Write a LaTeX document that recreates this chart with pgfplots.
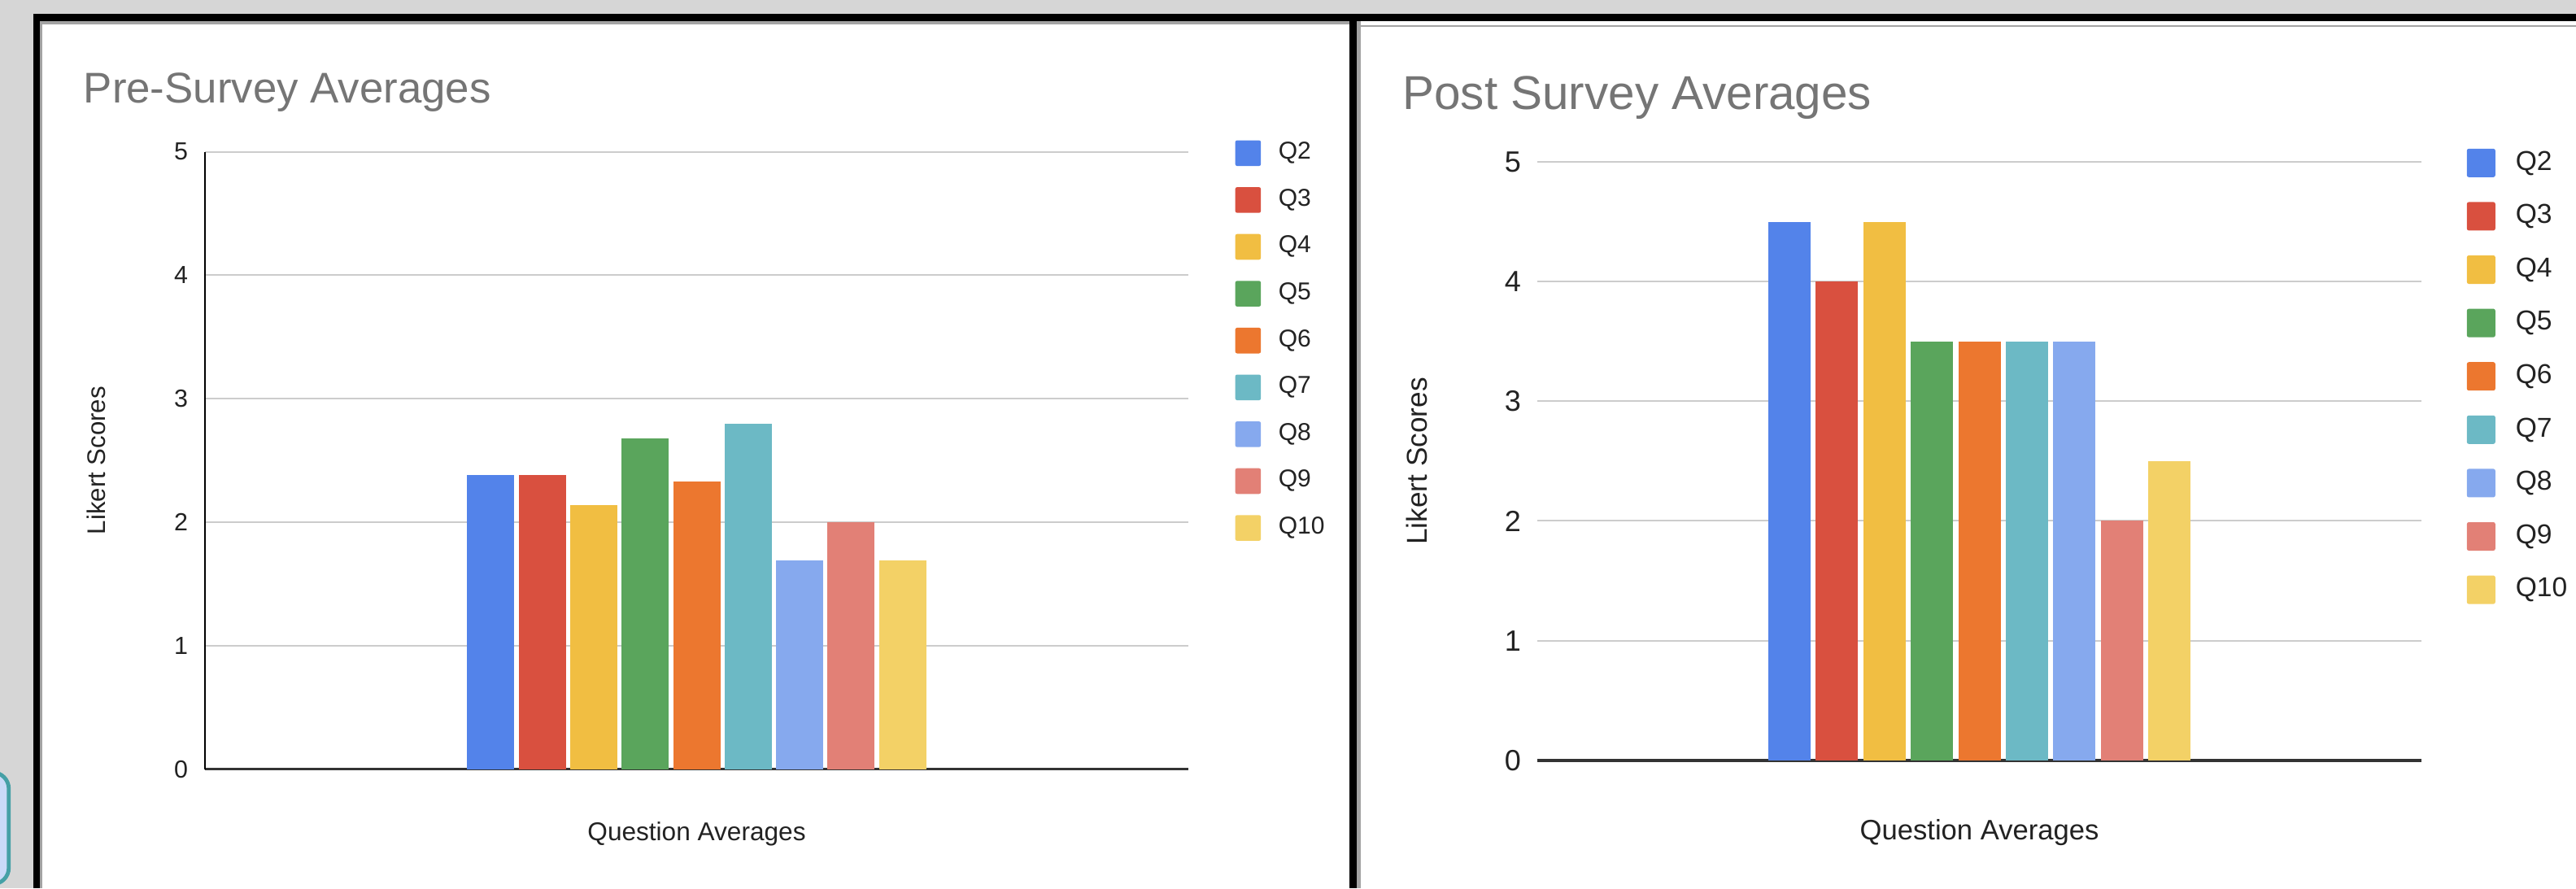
\documentclass[border=0pt]{standalone}
\usepackage{pgfplots}
\pgfplotsset{compat=1.18}
\usepackage{fontspec}
\setmainfont{Liberation Sans}

\definecolor{bggray}{HTML}{D6D6D6}
\definecolor{framegray}{HTML}{A3A3A3}
\definecolor{tealline}{HTML}{45A0A6}
\definecolor{boxblue}{HTML}{C9DAF8}
\definecolor{titlegray}{HTML}{757575}
\definecolor{gridgray}{HTML}{CCCCCC}
\definecolor{axisdark}{HTML}{333333}
\definecolor{labeltext}{HTML}{222222}
\definecolor{cQ2}{HTML}{5383EA}
\definecolor{cQ3}{HTML}{D9503F}
\definecolor{cQ4}{HTML}{F1BE42}
\definecolor{cQ5}{HTML}{5AA55C}
\definecolor{cQ6}{HTML}{EC772F}
\definecolor{cQ7}{HTML}{6CB9C5}
\definecolor{cQ8}{HTML}{86A9EE}
\definecolor{cQ9}{HTML}{E28076}
\definecolor{cQ10}{HTML}{F3D166}

% shared look of the two survey charts
\pgfplotsset{
  survey/.style={
    anchor=south west, scale only axis,
    xmin=-1, xmax=1, ymin=0, ymax=5,
    ytick={0,1,2,3,4,5}, xtick=\empty,
    enlargelimits=false,
    axis x line*=bottom, axis y line*=left,
    x axis line style={-, draw=axisdark, line width=0.9pt},
    ymajorgrids, major grid style={draw=gridgray, line width=0.5pt},
    major tick length=0pt,
    /pgf/number format/assume math mode=true,
    yticklabel style={text=labeltext},
    xlabel={Question Averages}, ylabel={Likert Scores},
    legend cell align=left,
  },
}

\begin{document}
\begin{tikzpicture}
\useasboundingbox (0,0) rectangle (791.75pt,273pt);
\clip (0,0) rectangle (791.75pt,273pt);
\fill[bggray] (0,0) rectangle (791.75pt,273pt);
% bit of a slide element at the far left
\draw[line width=1.2pt, draw=tealline, fill=boxblue, rounded corners=5pt]
  (-12pt,1.25pt) rectangle (2.7pt,35.6pt);
% the two white panels and their frames
\fill[white] (12.3pt,0) rectangle (791.75pt,266.5pt);
\fill[framegray] (12.3pt,265.6pt) rectangle (414.75pt,266.5pt);
\fill[framegray] (12.3pt,0) rectangle (13.1pt,266.5pt);
\fill[framegray] (417pt,264.7pt) rectangle (791.75pt,265.3pt);
\fill[framegray] (417pt,0) rectangle (418.2pt,266.5pt);
\fill[black] (10.2pt,266.5pt) rectangle (791.75pt,268.75pt);
\fill[black] (10.2pt,0) rectangle (12.3pt,268.75pt);
\fill[black] (414.75pt,0) rectangle (417pt,268.75pt);

\node[anchor=base west, inner sep=0pt, text=titlegray, font=\fontsize{13.2}{15}\selectfont]
  at (25.5pt,241.3pt) {Pre-Survey Averages};
\node[anchor=base west, inner sep=0pt, text=titlegray, font=\fontsize{14.6}{17}\selectfont]
  at (430.9pt,239.25pt) {Post Survey Averages};

% ---- pre survey ----
\begin{axis}[survey,
  at={(63pt,36.575pt)}, width=302.25pt, height=189.8pt,
  y axis line style={-, draw=black, line width=0.5pt},
  ybar=1.33pt, bar width=14.5pt,
  tick label style={font=\fontsize{7.6}{9}\selectfont},
  yticklabel style={xshift=-1.7pt},
  ylabel style={at={(axis description cs:-0.1105,0.5)}, anchor=center,
    font=\fontsize{7.8}{9}\selectfont, text=labeltext},
  xlabel style={at={(axis description cs:0.5,0)}, anchor=center, yshift=-19.8pt,
    font=\fontsize{7.9}{9}\selectfont, text=labeltext},
  legend style={at={(rel axis cs:1,1)}, anchor=north west, xshift=14.2pt, yshift=3.7pt,
    draw=none, fill=none, inner sep=0pt, row sep=6.5pt,
    nodes={inner sep=0pt, text=labeltext}, font=\fontsize{7.5}{9}\selectfont,
    /tikz/every odd column/.append style={column sep=5.4pt}},
  legend image code/.code={\fill[#1, rounded corners=0.6pt] (0pt,-3.95pt) rectangle (7.9pt,3.95pt);},
]
\addplot[fill=cQ2, draw=none] coordinates {(0,2.38)}; \addlegendentry{Q2}
\addplot[fill=cQ3, draw=none] coordinates {(0,2.38)}; \addlegendentry{Q3}
\addplot[fill=cQ4, draw=none] coordinates {(0,2.14)}; \addlegendentry{Q4}
\addplot[fill=cQ5, draw=none] coordinates {(0,2.68)}; \addlegendentry{Q5}
\addplot[fill=cQ6, draw=none] coordinates {(0,2.33)}; \addlegendentry{Q6}
\addplot[fill=cQ7, draw=none] coordinates {(0,2.80)}; \addlegendentry{Q7}
\addplot[fill=cQ8, draw=none] coordinates {(0,1.69)}; \addlegendentry{Q8}
\addplot[fill=cQ9, draw=none] coordinates {(0,2.00)}; \addlegendentry{Q9}
\addplot[fill=cQ10, draw=none] coordinates {(0,1.69)}; \addlegendentry{Q10}
\end{axis}

% ---- post survey ----
\begin{axis}[survey,
  at={(472.5pt,39.3pt)}, width=271.75pt, height=183.95pt,
  y axis line style={draw=none},
  ybar=1.6pt, bar width=13pt,
  tick label style={font=\fontsize{9}{10}\selectfont},
  yticklabel style={xshift=-1.5pt},
  ylabel style={at={(axis description cs:-0.136,0.5)}, anchor=center,
    font=\fontsize{8.8}{10}\selectfont, text=labeltext},
  xlabel style={at={(axis description cs:0.5,0)}, anchor=center, yshift=-22.3pt,
    font=\fontsize{8.65}{10}\selectfont, text=labeltext},
  legend style={at={(rel axis cs:1,1)}, anchor=north west, xshift=13.75pt, yshift=4.25pt,
    draw=none, fill=none, inner sep=0pt, row sep=7.65pt,
    nodes={inner sep=0pt, text=labeltext}, font=\fontsize{8.4}{10}\selectfont,
    /tikz/every odd column/.append style={column sep=6.25pt}},
  legend image code/.code={\fill[#1, rounded corners=0.6pt] (0pt,-4.375pt) rectangle (8.75pt,4.375pt);},
]
\addplot[fill=cQ2, draw=none] coordinates {(0,4.5)}; \addlegendentry{Q2}
\addplot[fill=cQ3, draw=none] coordinates {(0,4.0)}; \addlegendentry{Q3}
\addplot[fill=cQ4, draw=none] coordinates {(0,4.5)}; \addlegendentry{Q4}
\addplot[fill=cQ5, draw=none] coordinates {(0,3.5)}; \addlegendentry{Q5}
\addplot[fill=cQ6, draw=none] coordinates {(0,3.5)}; \addlegendentry{Q6}
\addplot[fill=cQ7, draw=none] coordinates {(0,3.5)}; \addlegendentry{Q7}
\addplot[fill=cQ8, draw=none] coordinates {(0,3.5)}; \addlegendentry{Q8}
\addplot[fill=cQ9, draw=none] coordinates {(0,2.0)}; \addlegendentry{Q9}
\addplot[fill=cQ10, draw=none] coordinates {(0,2.5)}; \addlegendentry{Q10}
\end{axis}
\end{tikzpicture}
\end{document}
